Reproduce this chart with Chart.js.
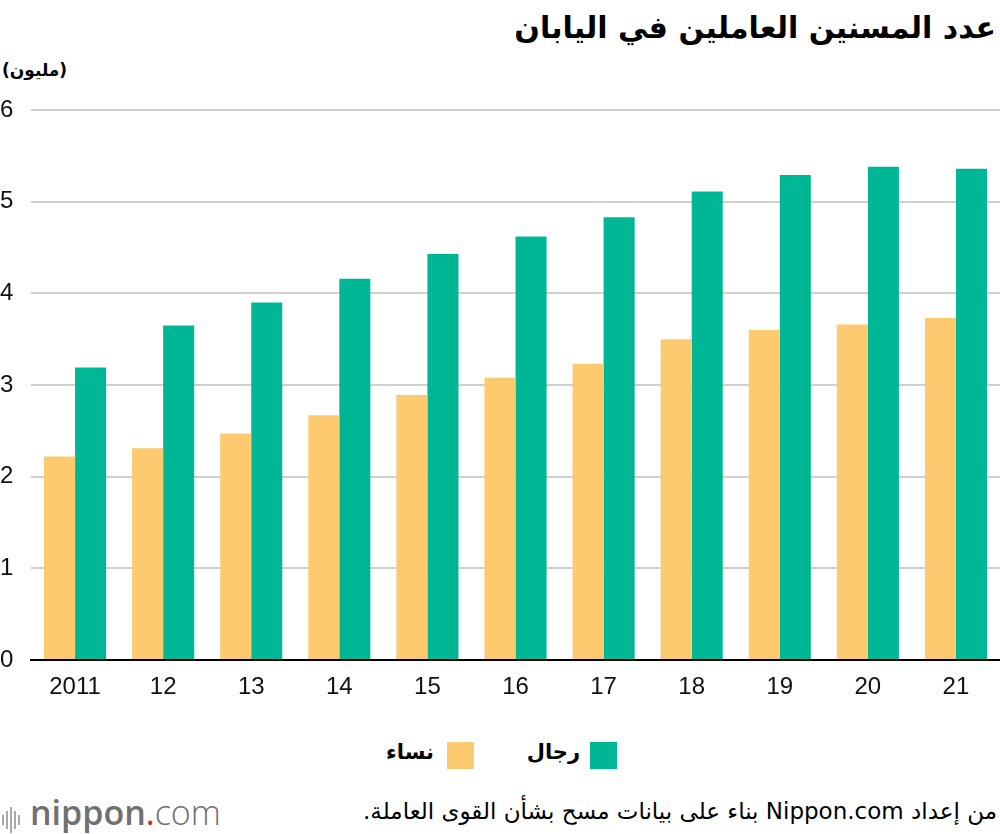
<!DOCTYPE html>
<html lang="ar">
<head>
<meta charset="utf-8">
<script src="https://cdn.jsdelivr.net/npm/chart.js@4.4.1/dist/chart.umd.min.js"></script>
<style>
  body { margin: 0; width: 1000px; height: 834px; background: #fff; position: relative; overflow: hidden; font-family: "DejaVu Sans", sans-serif; }
  .title { position: absolute; right: 4px; top: 10px; font-size: 30px; font-weight: bold; direction: rtl; color: #000; }
  .unit { position: absolute; left: 2px; top: 60px; font-size: 17px; font-weight: bold; direction: rtl; }
  .chart-wrap { position: absolute; left: 0; top: 90px; width: 1000px; height: 620px; }
  .legend { position: absolute; top: 740px; left: 0; width: 1000px; height: 30px; }
  .legend .sw { position: absolute; width: 27px; height: 27px; top: 2px; }
  .legend .lbl { position: absolute; font-size: 21px; font-weight: bold; direction: rtl; top: 0; }
  .source { position: absolute; right: 3px; top: 798px; font-size: 23px; direction: rtl; color: #000; }
  .logo { position: absolute; left: 2px; top: 789px; font-family: "Open Sans", sans-serif; font-size: 34px; color: #707070; }
  .logo .bars { display: inline-block; vertical-align: middle; margin-right: 8px; }
  .logo .bars span { display: inline-block; width: 2px; background: #aaa; margin-right: 2px; vertical-align: middle; }
</style>
</head>
<body>
<div class="title">عدد المسنين العاملين في اليابان</div>
<div class="unit">(مليون)</div>
<div class="chart-wrap"><canvas id="chart"></canvas></div>
<div class="legend">
  <div class="sw" style="left:590px; background:#00b795;"></div>
  <div class="lbl" style="right:420px;">رجال</div>
  <div class="sw" style="left:447px; background:#fdca70;"></div>
  <div class="lbl" style="right:566px;">نساء</div>
</div>
<div class="logo"><span class="bars"><span style="height:10px"></span><span style="height:18px"></span><span style="height:26px"></span><span style="height:18px"></span><span style="height:10px"></span></span><b style="font-weight:600">nippon</b><span style="color:#e0262a">.</span><span style="font-weight:300">com</span></div>
<div class="source">من إعداد Nippon.com بناء على بيانات مسح بشأن القوى العاملة.</div>

<script>
// data (millions)
const years = ['2011', '12', '13', '14', '15', '16', '17', '18', '19', '20', '21'];
const women = [2.22, 2.31, 2.47, 2.67, 2.89, 3.08, 3.23, 3.50, 3.60, 3.66, 3.73];
const men = [3.19, 3.65, 3.90, 4.16, 4.43, 4.62, 4.83, 5.11, 5.29, 5.38, 5.36];
const yTicks = [0, 1, 2, 3, 4, 5, 6];

const numFont = { family: '"Liberation Sans", Arial, sans-serif', size: 24 };

const ctx = document.getElementById('chart');
new Chart(ctx, {
  type: 'bar',
  data: {
    labels: years,
    datasets: [
      { label: 'نساء', data: women, backgroundColor: '#fdca70', categoryPercentage: 0.705, barPercentage: 1.0 },
      { label: 'رجال', data: men, backgroundColor: '#00b795', categoryPercentage: 0.705, barPercentage: 1.0 }
    ]
  },
  options: {
    responsive: true,
    maintainAspectRatio: false,
    animation: false,
    layout: { padding: { top: 20, right: 0, left: 0, bottom: 0 } },
    plugins: { legend: { display: false }, tooltip: { enabled: false } },
    scales: {
      x: {
        grid: { display: false },
        border: { display: true, color: '#000', width: 2 },
        ticks: { color: '#111', font: numFont, padding: 5 },
        afterFit: (scale) => { scale.height = 50; }
      },
      y: {
        min: 0,
        max: 6,
        afterBuildTicks: (scale) => { scale.ticks = yTicks.map(v => ({ value: v })); },
        grid: { color: '#d0d0d0', lineWidth: 2, tickLength: 0, drawTicks: false },
        border: { display: false },
        ticks: { color: '#111', font: numFont, align: 'center', crossAlign: 'far', padding: 0 },
        afterFit: (scale) => { scale.width = 31; }
      }
    }
  }
});
</script>
</body>
</html>
